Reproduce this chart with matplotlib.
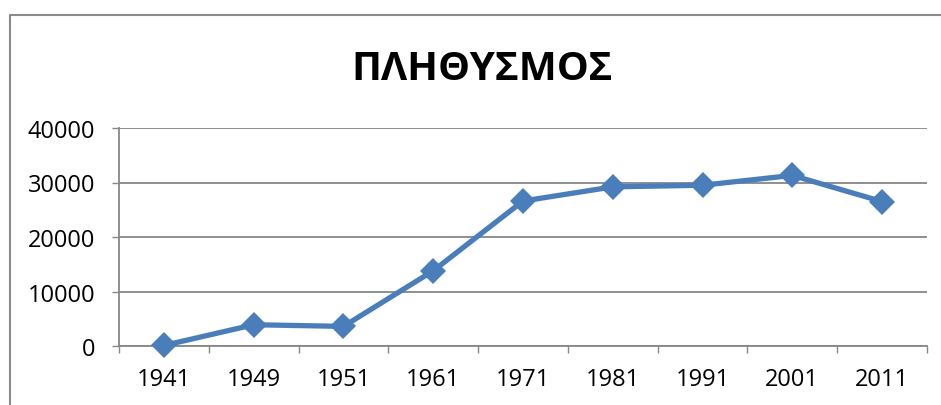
import matplotlib.pyplot as plt
from matplotlib.lines import Line2D

# population by census year
years = ['1941', '1949', '1951', '1961', '1971', '1981', '1991', '2001', '2011']
population = [100, 3900, 3600, 13800, 26600, 29200, 29500, 31300, 26500]

plt.rcParams['font.family'] = ['Open Sans', 'DejaVu Sans']

W, H = 941, 406
fig = plt.figure(figsize=(W / 100, H / 100), dpi=100)
ax = fig.add_axes([119 / W, (H - 347) / H, (927 - 119) / W, (347 - 129) / H])

x = list(range(len(years)))
ax.plot(x, population, color='#4A7EBB', lw=3.8, marker='D', ms=13.5,
        markeredgewidth=0, solid_joinstyle='round', clip_on=False, zorder=3)

ax.set_xlim(-0.5, len(years) - 0.5)
ax.set_ylim(0, 40000)
ax.set_yticks(range(0, 40001, 10000))
ax.set_xticks([i - 0.5 for i in range(len(years) + 1)], minor=False)
ax.set_xticklabels([])
ax.set_xticks(x, minor=True)
ax.set_xticklabels(years, minor=True)

grid_c = '#878787'
ax.yaxis.grid(True, color=grid_c, lw=1.3)
ax.set_axisbelow(True)
for s in ['top', 'right']:
    ax.spines[s].set_visible(False)
for s in ['left', 'bottom']:
    ax.spines[s].set_color(grid_c)
    ax.spines[s].set_linewidth(1.3)

ax.tick_params(axis='y', length=5, width=1.0, color=grid_c, pad=12, labelsize=17)
ax.tick_params(axis='x', which='major', length=5, width=1.0, color=grid_c)
ax.tick_params(axis='x', which='minor', length=0, pad=15, labelsize=17)

fig.text(482 / W, (H - 70) / H, 'ΠΛΗΘΥΣΜΟΣ', ha='center', va='center',
         fontsize=29, fontweight='bold')

# chart frame
fig.add_artist(Line2D([10 / W, 10 / W, 1.0], [0, (H - 16) / H, (H - 16) / H],
                      transform=fig.transFigure, color='#8a8a8a', lw=1.5))

fig.savefig('out.png', dpi=100)
